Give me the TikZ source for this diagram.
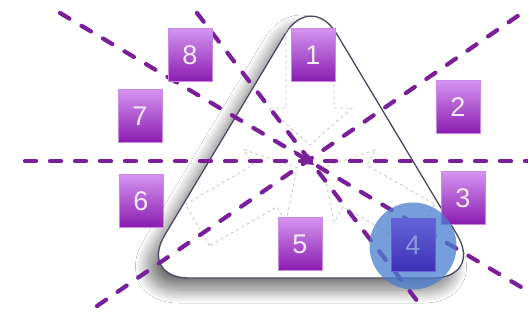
\documentclass[tikz,border=0pt]{standalone}
\usepackage{fontspec}
\setmainfont{Liberation Sans}
\usetikzlibrary{shadows.blur,arrows.meta}
\definecolor{linepurple}{HTML}{7A1F9A}
\definecolor{boxtop}{HTML}{D494F0}
\definecolor{boxbot}{HTML}{8A1CB0}
\definecolor{boxedge}{HTML}{C68AE6}
\definecolor{triedge}{HTML}{4C4760}
\definecolor{arrowgray}{HTML}{C8C8CC}
\definecolor{circblue}{HTML}{4A80D0}
\definecolor{fourtop}{HTML}{6464D8}
\definecolor{fourbot}{HTML}{3F30B6}
\definecolor{fourtext}{HTML}{8C9BE0}
\tikzset{
  numbox/.style={draw=boxedge, line width=0.6pt, top color=boxtop, bottom color=boxbot,
    minimum width=44pt, minimum height=53pt, inner sep=0pt,
    text=white!92!violet, font=\fontsize{27}{27}\selectfont},
  fourbox/.style={numbox, draw=fourtop, top color=fourtop, bottom color=fourbot, text=fourtext},
  cutline/.style={draw=linepurple, line width=4.2pt, line cap=round, dash pattern=on 11pt off 14pt},
  tri/.style={draw=triedge, line width=1.3pt, fill=white, rounded corners=50pt,
    blur shadow={shadow xshift=-10pt, shadow yshift=-12pt, shadow blur radius=13pt,
      shadow blur steps=40, shadow opacity=55}},
  grayarrow/.style={draw=arrowgray, line width=0.8pt, dash pattern=on 3pt off 3pt},
  hilite/.style={fill=circblue, fill opacity=0.76, draw=none}
}
\begin{document}
\begin{tikzpicture}[x=1pt,y=-1pt]
\useasboundingbox (0,0) rectangle (528,322);
\fill[white] (0,0) rectangle (528,322);
% triangle with shadow
\path[tri] (311,278) -- (483,278) -- (311,-9) -- (139,278) -- cycle;
% faint dashed block arrows pointing to the centre
\coordinate (ctr) at (310,160);
\foreach \a in {0,120,240}{
  \draw[grayarrow, rotate around={\a:(ctr)}]
    (286,30) -- (334,30) -- (334,108) -- (352,108) -- (310,145) -- (268,108) -- (286,108) -- cycle;
}
% dashed cut lines
\coordinate (h1) at (25,161);   \coordinate (h2) at (528,161);
\coordinate (a1) at (60,13);    \coordinate (a2) at (521,287);
\coordinate (s1) at (197,13);   \coordinate (s2) at (418,302);
\coordinate (u1) at (97,306);   \coordinate (u2) at (522,13);
\draw[cutline] (h1) -- (h2);
\draw[cutline] (a1) -- (a2);
\draw[cutline] (s1) -- (s2);
\draw[cutline] (u1) -- (u2);
\coordinate (t1) at (294,151); \coordinate (t2) at (314,165);
\draw[linepurple, line width=2pt, -{Stealth[length=11pt,width=12pt]}] (t1) -- (t2);
% numbered boxes
\node[numbox] (b1) at (313,55) {1};
\node[numbox] (b2) at (458,107) {2};
\node[numbox] (b3) at (463,198) {3};
\node[numbox] (b5) at (300,244) {5};
\node[numbox] (b6) at (141,201) {6};
\node[numbox] (b7) at (140,116) {7};
\node[numbox] (b8) at (190,55) {8};
% highlight circle and box 4
\node[hilite, circle, minimum size=87pt, inner sep=0pt] (hl) at (413,246) {};
\node[fourbox] (b4) at (413,245) {4};
\end{tikzpicture}
\end{document}
